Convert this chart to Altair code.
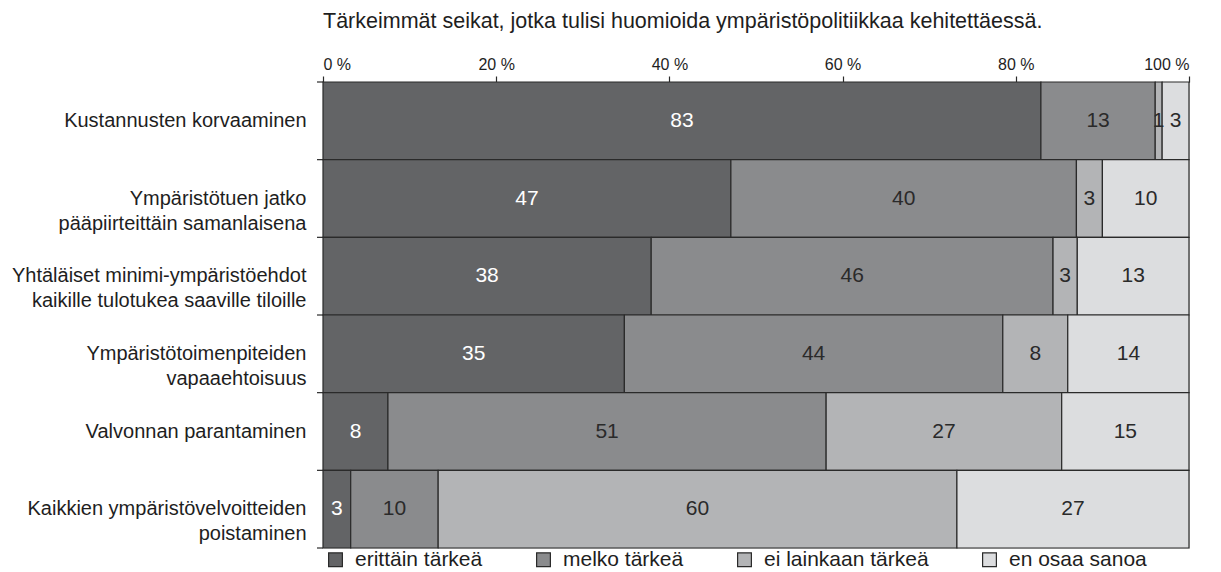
import altair as alt
import pandas as pd

categories = [
    "Kustannusten korvaaminen",
    "Ympäristötuen jatko|pääpiirteittäin samanlaisena",
    "Yhtäläiset minimi-ympäristöehdot|kaikille tulotukea saaville tiloille",
    "Ympäristötoimenpiteiden|vapaaehtoisuus",
    "Valvonnan parantaminen",
    "Kaikkien ympäristövelvoitteiden|poistaminen",
]
series = ["erittäin tärkeä", "melko tärkeä", "ei lainkaan tärkeä", "en osaa sanoa"]
colors = ["#636466", "#8a8b8d", "#b3b4b6", "#dcdddf"]

erittain = [82.9, 47.1, 37.9, 34.8, 7.5, 3.2]
melko = [13.2, 39.9, 46.4, 43.7, 50.6, 10.1]
ei_lainkaan = [0.8, 3.0, 2.8, 7.5, 27.2, 59.9]
en_osaa = [3.1, 10.0, 12.9, 14.0, 14.7, 26.8]

lab_erittain = ["83", "47", "38", "35", "8", "3"]
lab_melko = ["13", "40", "46", "44", "51", "10"]
lab_ei = ["1", "3", "3", "8", "27", "60"]
lab_en = ["3", "10", "13", "14", "15", "27"]

title_text = "Tärkeimmät seikat, jotka tulisi huomioida ympäristöpolitiikkaa kehitettäessä."
x_ticks = [0, 20, 40, 60, 80, 100]

rows = []
for si, (vals, labs) in enumerate(
    [(erittain, lab_erittain), (melko, lab_melko), (ei_lainkaan, lab_ei), (en_osaa, lab_en)]
):
    for ci, cat in enumerate(categories):
        rows.append({"category": cat, "series": series[si], "order": si,
                     "value": vals[ci], "label": labs[ci]})
df = pd.DataFrame(rows)

FONT = "Liberation Sans"
INK = "#1e1e1e"
W, H = 866, 466

base = alt.Chart(df).transform_stack(
    stack="value", groupby=["category"], sort=[alt.SortField("order")], as_=["v0", "v1"]
).transform_calculate(mid="(datum.v0 + datum.v1) / 2")

y_enc = alt.Y(
    "category:N", sort=categories,
    scale=alt.Scale(paddingInner=0, paddingOuter=0),
    axis=alt.Axis(
        title=None, ticks=False, domain=False,
        labelExpr="split(datum.label, '|')",
        labelFontSize=20, labelLineHeight=25, labelColor=INK,
        labelPadding=17, labelLimit=400, labelFont=FONT,
    ),
)

bars = base.mark_bar(stroke="#2a2a2a", strokeWidth=1.2).encode(
    x=alt.X(
        "v0:Q",
        scale=alt.Scale(domain=[0, 100], nice=False),
        axis=alt.Axis(
            orient="top", title=None, values=x_ticks,
            labelExpr="datum.value + ' %'", labelFontSize=16, labelColor=INK,
            labelFont=FONT, labelPadding=4, tickSize=6, tickColor="#2a2a2a",
            tickWidth=1.2, domainColor="#2a2a2a", domainWidth=1.2, grid=False,
        ),
    ),
    x2="v1:Q",
    y=y_enc,
    color=alt.Color(
        "series:N", sort=series,
        scale=alt.Scale(domain=series, range=colors),
        legend=alt.Legend(
            title=None, orient="none", legendX=2, legendY=467, padding=0,
            direction="horizontal", columns=4, columnPadding=50,
            symbolType="square", symbolSize=190, symbolStrokeColor="#2a2a2a",
            symbolStrokeWidth=1.2, labelFontSize=21, labelColor=INK,
            labelFont=FONT, labelOffset=9, labelLimit=300,
        ),
    ),
)

texts = base.mark_text(fontSize=21, font=FONT).encode(
    x=alt.X("mid:Q"),
    y=alt.Y("category:N", sort=categories),
    text="label:N",
    color=alt.condition(alt.datum.order == 0, alt.value("white"), alt.value("#2a2a2a")),
)

tick_df = pd.DataFrame({"category": categories})
row_ticks = alt.Chart(tick_df).mark_rule(color="#2a2a2a", strokeWidth=1.2).encode(
    y=alt.Y("category:N", sort=categories, bandPosition=0),
    x=alt.value(-6),
    x2=alt.value(0),
)
bottom_tick = alt.Chart(tick_df.head(1)).mark_rule(color="#2a2a2a", strokeWidth=1.2).encode(
    y=alt.value(H), x=alt.value(-6), x2=alt.value(0),
)

chart = alt.layer(bars, texts, row_ticks, bottom_tick).properties(
    width=W, height=H,
    autosize=alt.AutoSizeParams(type="none"),
    padding={"left": 315, "top": 74, "right": 16, "bottom": 24},
    title=alt.TitleParams(
        title_text, anchor="start", frame="group", fontSize=21.5, fontWeight="normal",
        color=INK, font=FONT, offset=24,
    ),
).configure_view(stroke=None).configure(background="white")

chart.save("out.html", embed_options={"renderer": "svg", "actions": False})
